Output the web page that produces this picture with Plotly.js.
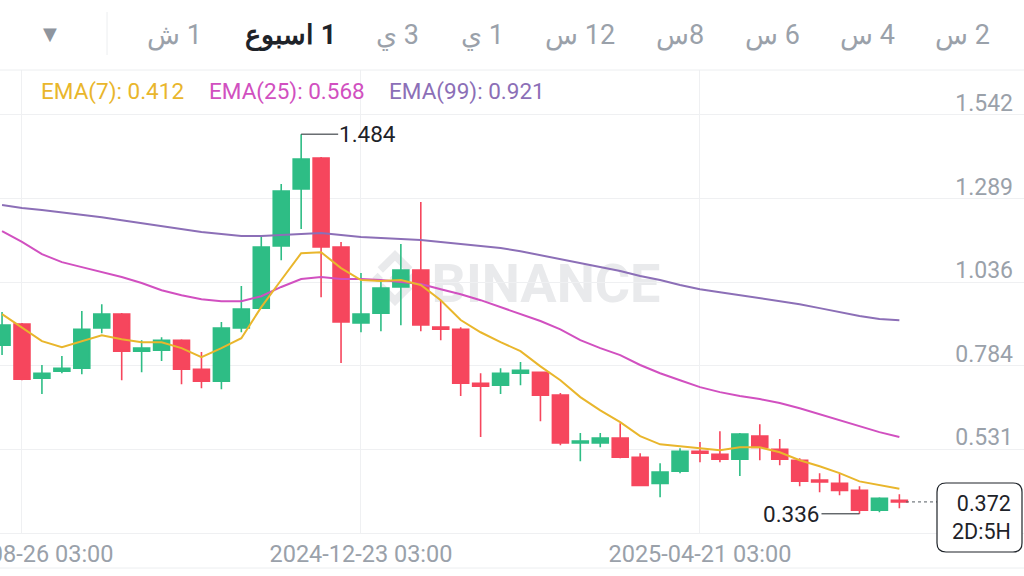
<!DOCTYPE html>
<html>
<head>
<meta charset="utf-8">
<script src="https://cdn.plot.ly/plotly-3.0.1.min.js"></script>
<style>html,body{margin:0;padding:0;background:#fff;}#chart{width:1024px;height:576px;}</style>
</head>
<body>
<div id="chart"></div>
<script>
// ---- data (weekly candles) ----
const dates = ["2024-08-19 03:00","2024-08-26 03:00","2024-09-02 03:00","2024-09-09 03:00","2024-09-16 03:00","2024-09-23 03:00","2024-09-30 03:00","2024-10-07 03:00","2024-10-14 03:00","2024-10-21 03:00","2024-10-28 03:00","2024-11-04 03:00","2024-11-11 03:00","2024-11-18 03:00","2024-11-25 03:00","2024-12-02 03:00","2024-12-09 03:00","2024-12-16 03:00","2024-12-23 03:00","2024-12-30 03:00","2025-01-06 03:00","2025-01-13 03:00","2025-01-20 03:00","2025-01-27 03:00","2025-02-03 03:00","2025-02-10 03:00","2025-02-17 03:00","2025-02-24 03:00","2025-03-03 03:00","2025-03-10 03:00","2025-03-17 03:00","2025-03-24 03:00","2025-03-31 03:00","2025-04-07 03:00","2025-04-14 03:00","2025-04-21 03:00","2025-04-28 03:00","2025-05-05 03:00","2025-05-12 03:00","2025-05-19 03:00","2025-05-26 03:00","2025-06-02 03:00","2025-06-09 03:00","2025-06-16 03:00","2025-06-23 03:00","2025-06-30 03:00"];
const openP  = [0.846,0.910,0.746,0.767,0.776,0.898,0.940,0.828,0.831,0.861,0.773,0.737,0.898,0.958,1.146,1.318,1.412,1.143,0.913,0.943,1.022,1.073,0.901,0.894,0.731,0.725,0.761,0.764,0.695,0.550,0.550,0.565,0.507,0.428,0.465,0.525,0.516,0.501,0.571,0.531,0.498,0.438,0.428,0.407,0.347,0.377];
const highP  = [0.946,0.913,0.786,0.813,0.949,0.970,0.943,0.861,0.870,0.864,0.825,0.916,1.025,1.173,1.333,1.484,1.415,1.158,1.064,1.043,1.152,1.279,0.982,0.900,0.761,0.776,0.795,0.764,0.701,0.580,0.580,0.610,0.519,0.489,0.534,0.553,0.586,0.580,0.607,0.562,0.504,0.459,0.459,0.419,0.386,0.395];
const lowP   = [0.816,0.740,0.698,0.761,0.758,0.882,0.740,0.764,0.798,0.728,0.716,0.713,0.885,0.955,1.103,1.197,0.991,0.792,0.885,0.888,0.906,0.888,0.861,0.692,0.568,0.698,0.725,0.616,0.543,0.495,0.537,0.504,0.419,0.386,0.459,0.492,0.492,0.450,0.498,0.483,0.419,0.401,0.392,0.336,0.341,0.353];
const closeP = [0.907,0.743,0.761,0.776,0.894,0.940,0.828,0.837,0.861,0.773,0.737,0.898,0.955,1.143,1.312,1.409,1.143,0.916,0.940,1.019,1.073,0.907,0.894,0.731,0.722,0.761,0.770,0.695,0.550,0.556,0.565,0.507,0.422,0.462,0.525,0.519,0.501,0.577,0.537,0.501,0.435,0.432,0.407,0.347,0.383,0.372];
const ema7   = [0.940,0.900,0.858,0.840,0.858,0.876,0.864,0.855,0.855,0.837,0.810,0.837,0.867,0.961,1.043,1.124,1.127,1.079,1.043,1.040,1.043,1.028,0.982,0.922,0.885,0.855,0.828,0.782,0.740,0.689,0.649,0.613,0.571,0.546,0.540,0.534,0.528,0.537,0.537,0.522,0.498,0.480,0.459,0.434,0.422,0.412];
const ema25  = [1.191,1.158,1.121,1.097,1.082,1.067,1.052,1.034,1.012,0.997,0.985,0.979,0.979,0.994,1.022,1.046,1.052,1.046,1.046,1.043,1.037,1.031,1.015,1.000,0.982,0.961,0.940,0.919,0.894,0.861,0.837,0.816,0.786,0.761,0.740,0.719,0.704,0.692,0.683,0.671,0.655,0.637,0.619,0.601,0.583,0.568];
const ema99  = [1.270,1.261,1.255,1.248,1.239,1.233,1.224,1.215,1.206,1.197,1.188,1.182,1.176,1.176,1.179,1.182,1.185,1.179,1.173,1.170,1.167,1.164,1.158,1.152,1.146,1.140,1.130,1.118,1.106,1.094,1.082,1.070,1.055,1.043,1.028,1.015,1.006,0.997,0.988,0.979,0.970,0.958,0.946,0.934,0.925,0.921];
const yTickVals = [0.278,0.531,0.784,1.036,1.289,1.542];
const yTickText = ["0.278","0.531","0.784","1.036","1.289","1.542"];
const xTickVals = ["2024-08-26 03:00","2024-12-23 03:00","2025-04-21 03:00"];
const xTickText = ["2024-08-26 03:00","2024-12-23 03:00","2025-04-21 03:00"];
const intervalLabels = ["2 س","4 س","6 س","8س","12 س","1 ي","3 ي","1 اسبوع","1 ش"];
const emaLabels = ["EMA(7): 0.412","EMA(25): 0.568","EMA(99): 0.921"];
const highLabel = "1.484", lowLabel = "0.336";
const priceBoxText = "0.372<br>2D:5H";

// ---- layout helpers (pixel -> paper) ----
const W = 1024, PT = 70, PB = 533, PH = PB - PT;
const px = p => p / W;
const py = p => (PB - p) / PH;
const WEEK = 7 * 86400000;
const base = Date.UTC(2024, 7, 26, 3);
const xRange = [base - 1.103 * WEEK, base + 50.25 * WEEK];

const GREEN = '#2EBD85', RED = '#F6465D';
const C7 = '#E9B62C', C25 = '#D150C0', C99 = '#8C6FB7';
const GRID = '#eff0f2', TXT = '#9aa1aa', DARK = '#1e2329';
const FONT = 'Roboto, "Noto Sans", sans-serif';

const traces = [
  {type:'candlestick', x:dates, open:openP, high:highP, low:lowP, close:closeP,
   increasing:{line:{color:GREEN,width:1.6}, fillcolor:GREEN},
   decreasing:{line:{color:RED,width:1.6}, fillcolor:RED},
   whiskerwidth:0, hoverinfo:'skip'},
  {type:'scatter', mode:'lines', x:dates, y:ema99, line:{color:C99,width:2}, hoverinfo:'skip'},
  {type:'scatter', mode:'lines', x:dates, y:ema25, line:{color:C25,width:2}, hoverinfo:'skip'},
  {type:'scatter', mode:'lines', x:dates, y:ema7, line:{color:C7,width:2}, hoverinfo:'skip'}
];

// header annotations
const headerX = [962,867,772,680,580,482,397,290,174];
const annotations = [];
intervalLabels.forEach((t,i)=>{
  const sel = i === 7;
  annotations.push({xref:'paper', yref:'paper', x:px(headerX[i]), y:py(35), xanchor:'center', yanchor:'middle',
    text: '\u200F' + (sel ? '<b>'+t+'</b>' : t), showarrow:false,
    font:{size:27, color: sel ? DARK : TXT, family:FONT}});
});
annotations.push({xref:'paper', yref:'paper', x:px(50), y:py(33), text:'▼', showarrow:false,
  font:{size:18, color:'#8f959e', family:'DejaVu Sans'}, xanchor:'center', yanchor:'middle'});
// EMA legend
const emaX = [39,207,387], emaC = [C7,C25,C99];
emaLabels.forEach((t,i)=>annotations.push({xref:'paper', yref:'paper', x:px(emaX[i]), y:py(92), xanchor:'left', yanchor:'middle',
  text:t, showarrow:false, font:{size:22.5, color:emaC[i], family:FONT}}));
// high / low markers
const iHigh = highP.indexOf(Math.max(...highP));
const iLow = lowP.indexOf(Math.min(...lowP));
annotations.push({x:dates[iHigh], y:highP[iHigh], xref:'x', yref:'y', text:highLabel, showarrow:true, arrowhead:0,
  arrowwidth:1, arrowcolor:DARK, ax:37, ay:0, xanchor:'left', yanchor:'middle', standoff:0, borderpad:0,
  font:{size:22.5, color:DARK, family:FONT}});
annotations.push({x:dates[iLow], y:lowP[iLow], xref:'x', yref:'y', text:lowLabel, showarrow:true, arrowhead:0,
  arrowwidth:1, arrowcolor:DARK, ax:-38, ay:0, xanchor:'right', yanchor:'middle', standoff:0, borderpad:0,
  font:{size:22.5, color:DARK, family:FONT}});
// last price box text
const last = closeP.length - 1;
annotations.push({xref:'paper', yref:'paper', x:px(1012), y:py(517.5), xanchor:'right', yanchor:'middle',
  text:priceBoxText, showarrow:false, align:'right', bgcolor:'rgba(0,0,0,0)', borderpad:0,
  font:{size:21.5, color:DARK, family:FONT}});

// watermark logo path (Binance-like)
function poly(pts){ return 'M' + pts.map(p=>px(p[0])+','+py(p[1])).join(' L') + ' Z'; }
const cx = 395, cy = 278, s = 28;
const P = (a,b)=>[cx + a*s, cy + b*s];
const logo = [
  poly([P(0,-0.19),P(0.19,0),P(0,0.19),P(-0.19,0)]),
  poly([P(-0.62,-0.19),P(-0.43,0),P(-0.62,0.19),P(-0.81,0)]),
  poly([P(0.62,-0.19),P(0.81,0),P(0.62,0.19),P(0.43,0)]),
  poly([P(-0.43,-0.19),P(0,-0.62),P(0.43,-0.19),P(0.62,-0.38),P(0,-1),P(-0.62,-0.38)]),
  poly([P(-0.43,0.19),P(0,0.62),P(0.43,0.19),P(0.62,0.38),P(0,1),P(-0.62,0.38)])
].join(' ');

// rounded price box path
function roundRect(x0,y0,x1,y1,r){
  const X=px, Y=py;
  return `M${X(x0+r)},${Y(y0)} L${X(x1-r)},${Y(y0)} Q${X(x1)},${Y(y0)} ${X(x1)},${Y(y0+r)} L${X(x1)},${Y(y1-r)} Q${X(x1)},${Y(y1)} ${X(x1-r)},${Y(y1)} L${X(x0+r)},${Y(y1)} Q${X(x0)},${Y(y1)} ${X(x0)},${Y(y1-r)} L${X(x0)},${Y(y0+r)} Q${X(x0)},${Y(y0)} ${X(x0+r)},${Y(y0)} Z`;
}

const shapes = [
  {type:'path', xref:'paper', yref:'paper', path:logo, fillcolor:'#e9eaec', line:{width:0}, layer:'below'},
  {type:'rect', xref:'paper', yref:'paper', x0:px(426), x1:px(666), y0:py(301), y1:py(257), line:{width:0},
   fillcolor:'rgba(0,0,0,0)', layer:'below',
   label:{text:'<b>BINANCE</b>', textposition:'middle center', font:{size:54, color:'#e9eaec', family:FONT}}},
  // header separators / borders
  {type:'line', xref:'paper', yref:'paper', x0:px(107), x1:px(107), y0:py(12), y1:py(55), line:{color:'#eceef0', width:1}},
  {type:'line', xref:'paper', yref:'paper', x0:0, x1:1, y0:1, y1:1, line:{color:'#eceef0', width:1}},
  {type:'line', xref:'paper', yref:'paper', x0:0, x1:1, y0:py(568), y1:py(568), line:{color:'#eceef0', width:1}},
  // dashed last price line
  {type:'line', xref:'paper', yref:'y', x0:px(906), x1:px(937), y0:closeP[last], y1:closeP[last],
   line:{color:'#555b63', width:1, dash:'3px,3px'}},
  // price box
  {type:'path', xref:'paper', yref:'paper', path:roundRect(937,483,1022,552,9), fillcolor:'#ffffff',
   line:{color:DARK, width:1.2}, layer:'above'}
];

const layout = {
  width:1024, height:576, margin:{l:0,r:0,t:70,b:43,pad:0},
  paper_bgcolor:'#ffffff', plot_bgcolor:'#ffffff', showlegend:false,
  font:{family:FONT},
  boxgap:0.2, boxgroupgap:0,
  xaxis:{type:'date', range:xRange, tickvals:xTickVals, ticktext:xTickText, showgrid:true, gridcolor:GRID,
    zeroline:false, showline:true, linecolor:GRID, rangeslider:{visible:false}, ticks:'',
    ticklabeloverflow:'allow', tickfont:{size:23.5, color:TXT, family:FONT}, fixedrange:true},
  yaxis:{range:[0.278,1.678], side:'right', tickvals:yTickVals, ticktext:yTickText, ticklabelposition:'inside top',
    ticklabeloverflow:'allow', ticklabelstandoff:8, ticklabelshift:4, showgrid:true, gridcolor:GRID, zeroline:false, showline:false, ticks:'',
    tickfont:{size:23, color:TXT, family:FONT}, fixedrange:true},
  annotations:annotations, shapes:shapes
};

Plotly.newPlot('chart', traces, layout, {staticPlot:true, displayModeBar:false});
</script>
</body>
</html>
